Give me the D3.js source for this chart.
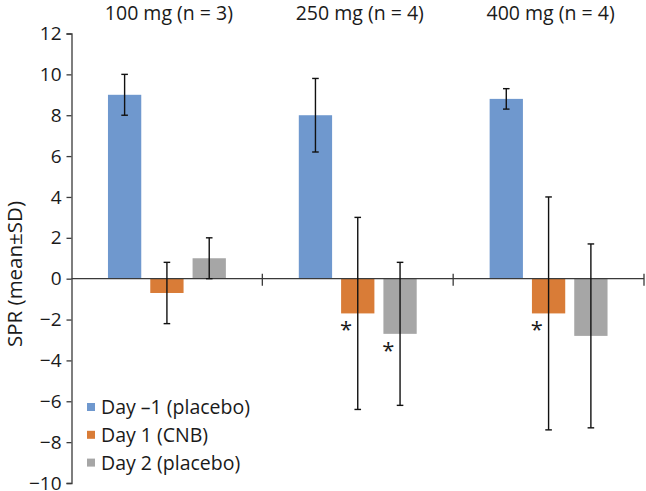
<html>
    <head>
        <meta charset="utf-8">
        <script src="https://d3js.org/d3.v7.min.js"></script>
        <style>
            body { margin: 0; background: #fff; }
            text { font-family: "Open Sans", sans-serif; fill: #1a1a1a; }
            .y.axis .domain, .y.axis line { stroke: #3a3a3a; stroke-width: 1.3; }
        </style>
    </head>
    <body>
        <svg height="491" width="646" id="chart"></svg>

        <script>
            // data
            const categories = ["100 mg (n = 3)", "250 mg (n = 4)", "400 mg (n = 4)"];
            const series = ["Day \u20131 (placebo)", "Day 1 (CNB)", "Day 2 (placebo)"];
            const meanDayMinus1 = [9, 8, 8.8];
            const meanDay1 = [-0.7, -1.7, -1.7];
            const meanDay2 = [1, -2.7, -2.8];
            const sdDayMinus1 = [1, 1.8, 0.5];
            const sdDay1 = [1.5, 4.7, 5.7];
            const sdDay2 = [1, 3.5, 4.5];
            // significance markers (per series, per category)
            const starDayMinus1 = [false, false, false];
            const starDay1 = [false, true, true];
            const starDay2 = [false, true, false];
            const yTicks = [-10, -8, -6, -4, -2, 0, 2, 4, 6, 8, 10, 12];

            const colors = ["#6f98ce", "#d97c37", "#a6a6a6"];
            const means = [meanDayMinus1, meanDay1, meanDay2];
            const sds = [sdDayMinus1, sdDay1, sdDay2];
            const stars = [starDayMinus1, starDay1, starDay2];

            const rows = [];
            categories.forEach((c, ci) => {
                series.forEach((s, si) => {
                    rows.push({ cat: c, ser: s, si: si, value: means[si][ci], sd: sds[si][ci], star: stars[si][ci] });
                });
            });

            const svg = d3.select("#chart");
            const plotLeft = 71.5, plotRight = 644, plotTop = 33.5, plotBottom = 483;

            const y = d3.scaleLinear().domain([-10, 12]).range([plotBottom, plotTop]);
            const x = d3.scaleBand().domain(categories).range([plotLeft, plotRight]).padding(0);
            const xs = d3.scaleBand().domain(series).range([0, x.bandwidth()])
                .paddingInner(0.213).paddingOuter(0.862);

            // y axis
            svg.append("g")
                .attr("class", "y axis")
                .attr("transform", `translate(${plotLeft},0)`)
                .call(d3.axisLeft(y).tickValues(yTicks).tickSize(5).tickSizeOuter(5).tickPadding(5))
                .call(g => g.selectAll("text")
                    .style("font-family", "'Open Sans', sans-serif")
                    .style("font-size", "19px")
                    .attr("fill", "#1a1a1a"));

            svg.append("text")
                .attr("transform", `translate(22,274) rotate(-90)`)
                .attr("text-anchor", "middle")
                .style("font-size", "20.5px")
                .text("SPR (mean\u00b1SD)");

            // bars
            svg.append("g").selectAll("rect").data(rows).join("rect")
                .attr("x", d => x(d.cat) + xs(d.ser))
                .attr("width", xs.bandwidth())
                .attr("y", d => y(Math.max(0, d.value)))
                .attr("height", d => Math.abs(y(d.value) - y(0)))
                .attr("fill", d => colors[d.si]);

            // zero line with category separators
            const zero = svg.append("g").attr("stroke", "#3a3a3a").attr("stroke-width", 1.3);
            zero.append("line")
                .attr("x1", plotLeft).attr("x2", plotRight)
                .attr("y1", y(0)).attr("y2", y(0));
            zero.selectAll("line.sep").data(categories).join("line")
                .attr("class", "sep")
                .attr("x1", d => x(d) + x.bandwidth()).attr("x2", d => x(d) + x.bandwidth())
                .attr("y1", y(0) - 5).attr("y2", y(0) + 7);

            // error bars
            const err = svg.append("g").attr("stroke", "#111").attr("stroke-width", 1.4);
            rows.forEach(d => {
                const cx = x(d.cat) + xs(d.ser) + xs.bandwidth() / 2;
                const y1 = y(d.value + d.sd), y2 = y(d.value - d.sd);
                err.append("line").attr("x1", cx).attr("x2", cx).attr("y1", y1).attr("y2", y2);
                err.append("line").attr("x1", cx - 3.3).attr("x2", cx + 3.3).attr("y1", y1).attr("y2", y1);
                err.append("line").attr("x1", cx - 3.3).attr("x2", cx + 3.3).attr("y1", y2).attr("y2", y2);
            });

            // asterisks
            svg.append("g").selectAll("text").data(rows.filter(d => d.star)).join("text")
                .attr("x", d => x(d.cat) + xs(d.ser) + 5)
                .attr("y", d => y(d.value) + 24)
                .attr("text-anchor", "middle")
                .style("font-size", "22px")
                .text("*");

            // category labels
            svg.append("g").selectAll("text").data(categories).join("text")
                .attr("x", d => x(d) + x.bandwidth() / 2 + 2)
                .attr("y", 20)
                .attr("text-anchor", "middle")
                .style("font-size", "19.5px")
                .text(d => d);

            // legend
            const legend = svg.append("g").selectAll("g").data(series).join("g")
                .attr("transform", (d, i) => `translate(87,${407 + i * 27.8})`);
            legend.append("rect")
                .attr("x", 0).attr("y", -4).attr("width", 8).attr("height", 8)
                .attr("fill", (d, i) => colors[i]);
            legend.append("text")
                .attr("x", 14).attr("y", 7)
                .style("font-size", "19.5px")
                .text(d => d);
        </script>
    </body>
</html>
